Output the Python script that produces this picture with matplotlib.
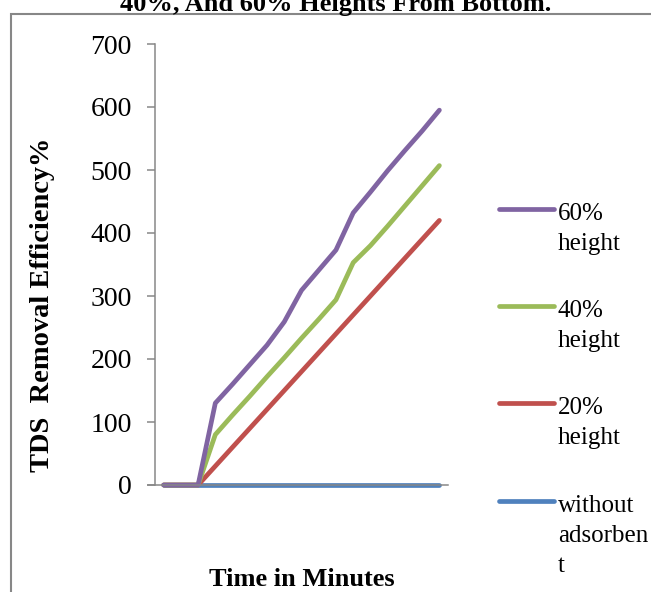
import matplotlib
matplotlib.use("Agg")
import matplotlib.pyplot as plt
from matplotlib.lines import Line2D
from matplotlib.patches import Rectangle

W, H = 651, 592

# Données (17 relevés dans le temps)
temps = list(range(17))
h60 = [0, 0, 0, 130, 160, 191, 222, 259, 309, 341, 373, 432, 465, 499, 531, 562, 595]
h40 = [0, 0, 0, 80, 111, 141, 172, 202, 233, 263, 294, 353, 380, 411, 443, 475, 507]
h20 = [0, 0, 0, 30, 60, 90, 120, 150, 180, 210, 240, 270, 300, 330, 360, 390, 420]
sans = [0, 0, 0, 0, 0, 0, 0, 0, 0, 0, 0, 0, 0, 0, 0, 0, 0]
yticks = [0, 100, 200, 300, 400, 500, 600, 700]

series = [
    (sans, "#4F81BD", "without\nadsorben\nt"),
    (h20, "#C0504D", "20%\nheight"),
    (h40, "#9BBB59", "40%\nheight"),
    (h60, "#8064A2", "60%\nheight"),
]

plt.rcParams["font.family"] = ["Liberation Serif", "DejaVu Serif"]
GRIS = "#878787"
EP = 3.4  # épaisseur des courbes

fig = plt.figure(figsize=(W / 100, H / 100), dpi=100)
ax = fig.add_axes([155 / W, 1 - 485 / H, (448 - 155) / W, (485 - 44) / H])

for vals, col, _ in series:
    ax.plot(temps, vals, color=col, lw=EP, solid_capstyle="round",
            solid_joinstyle="round", clip_on=False)

ax.set_xlim(-0.5, 16.5)
ax.set_ylim(0, 700)
ax.set_xticks([])
ax.set_yticks(yticks)
ax.tick_params(axis="y", direction="out", length=5.8, width=1.1, color=GRIS,
               labelsize=20, pad=11)
for s in ("top", "right"):
    ax.spines[s].set_visible(False)
for s in ("left", "bottom"):
    ax.spines[s].set_color(GRIS)
    ax.spines[s].set_linewidth(1.1)
ax.spines["bottom"].set_bounds(-0.93, 16.5)

# Titres
fig.text(336 / W, 1 - 11 / H, "40%, And 60% Heights From Bottom.", ha="center",
         va="baseline", fontsize=19, fontweight="bold")
fig.text(301.5 / W, 1 - 586 / H, "Time in Minutes", ha="center", va="baseline",
         fontsize=19, fontweight="bold")
fig.text(43 / W, 1 - 305 / H, "TDS  Removal Efficiency%", ha="center", va="center",
         rotation=90, fontsize=20.5, fontweight="bold")

# Légende à droite (ordre inverse des séries)
y_lignes = [209, 306, 403, 501]
for (vals, col, lab), yl in zip(reversed(series), y_lignes):
    fig.add_artist(Line2D([499 / W, 554 / W], [1 - yl / H] * 2, color=col, lw=EP,
                          solid_capstyle="round", transform=fig.transFigure))
    for k, ligne in enumerate(lab.split("\n")):
        fig.text(558 / W, 1 - (yl + 11 + 30 * k) / H, ligne, ha="left",
                 va="baseline", fontsize=18)

# Cadre extérieur gris
fig.add_artist(Rectangle((11 / W, -0.1), 1.2, 1.1 - 14 / H, fill=False,
                         edgecolor=GRIS, lw=1.5, transform=fig.transFigure))

fig.savefig("out.png", dpi=100)
